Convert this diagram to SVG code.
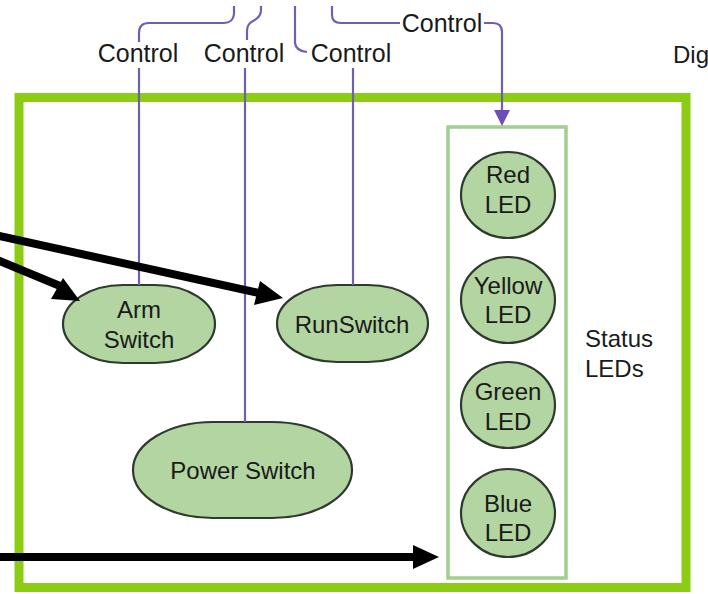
<svg xmlns="http://www.w3.org/2000/svg" width="708" height="594" viewBox="0 0 708 594">
<defs>
<style>
.lbl{font-family:"Liberation Sans",Arial,sans-serif;font-size:24px;fill:#1a1a1a;text-anchor:middle}
.node{fill:#b2d5a1;stroke:#2e3a2e;stroke-width:2.2}
.ctl{fill:none;stroke:#6e5fb0;stroke-width:2.2}
.big{fill:none;stroke:#000;stroke-width:8}
</style>
</defs>
<rect width="708" height="594" fill="#ffffff"/>
<g id="system-frame">
<rect x="19" y="97.5" width="667" height="490" fill="none" stroke="#8ccc14" stroke-width="9"/>
</g>
<g id="status-leds">
<rect x="448" y="127" width="118" height="451" fill="none" stroke="#9fd08c" stroke-width="3.5"/>
<text class="lbl" x="585" y="347" style="text-anchor:start">Status</text>
<text class="lbl" x="585" y="377" style="text-anchor:start">LEDs</text>
</g>
<g id="red-led">
<ellipse class="node" cx="508" cy="195" rx="47" ry="43"/>
<text class="lbl" x="508" y="183">Red</text>
<text class="lbl" x="508" y="213">LED</text>
</g>
<g id="yellow-led">
<ellipse class="node" cx="508" cy="300" rx="47" ry="43"/>
<text class="lbl" x="508" y="294">Yellow</text>
<text class="lbl" x="508" y="323">LED</text>
</g>
<g id="green-led">
<ellipse class="node" cx="508" cy="405" rx="47" ry="43"/>
<text class="lbl" x="508" y="400">Green</text>
<text class="lbl" x="508" y="430">LED</text>
</g>
<g id="blue-led">
<ellipse class="node" cx="508" cy="513" rx="47" ry="44"/>
<text class="lbl" x="508" y="512">Blue</text>
<text class="lbl" x="508" y="541">LED</text>
</g>
<g id="arm-switch">
<rect class="node" x="63" y="285" width="152" height="78" rx="60" ry="39"/>
<text class="lbl" x="139" y="318">Arm</text>
<text class="lbl" x="139" y="348">Switch</text>
</g>
<g id="run-switch">
<rect class="node" x="277" y="285" width="151" height="77" rx="60" ry="38.5"/>
<text class="lbl" x="352" y="333">RunSwitch</text>
</g>
<g id="power-switch">
<rect class="node" x="133" y="422" width="219" height="96" rx="80" ry="48"/>
<text class="lbl" x="243" y="479">Power Switch</text>
</g>
<g id="connectors">
<path class="ctl" d="M139,285 V68"/>
<path class="ctl" d="M245,422 V68"/>
<path class="ctl" d="M353,285 V68"/>
<path class="ctl" d="M139,42 V33 Q139,23 149,23 H224 Q233,23 234,14 V6"/>
<path class="ctl" d="M247,40 V31 Q247,24 253,21 Q261,17 261,10 V6"/>
<path class="ctl" d="M295,6 V43 Q296,51 307,52"/>
<path class="ctl" d="M332,6 V15 Q332,23 341,23 H400"/>
<path class="ctl" d="M484,23 H493 Q502,23 502,32 V112"/>
<polygon points="494,110 510,110 502,126" fill="#6a4fbb"/>
<path class="big" d="M-5,235 L259,293"/>
<polygon points="283,298 254,305 260,281" fill="#000"/>
<path class="big" d="M-5,259 L60,286"/>
<polygon points="80,301 51,299 63,278" fill="#000"/>
<path class="big" d="M-5,557 L415,557"/>
<polygon points="439,557 413,545 413,569" fill="#000"/>
<text class="lbl" x="138" y="62" style="font-size:25px">Control</text>
<text class="lbl" x="244" y="62" style="font-size:25px">Control</text>
<text class="lbl" x="351" y="62" style="font-size:25px">Control</text>
<text class="lbl" x="442" y="32" style="font-size:25px">Control</text>
</g>
<text class="lbl" x="673" y="63" style="text-anchor:start">Dig</text>
</svg>
